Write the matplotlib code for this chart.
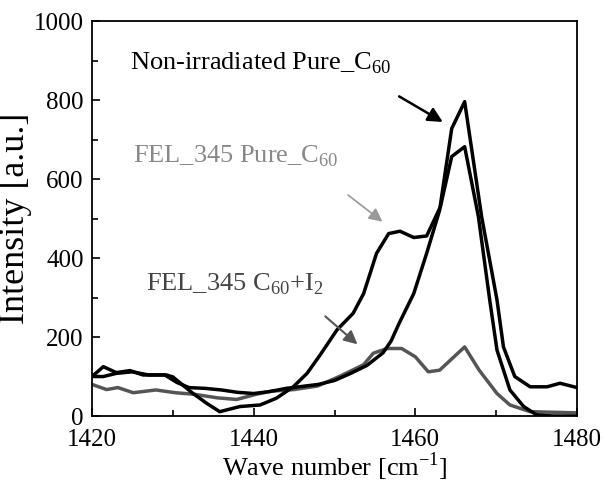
import matplotlib.pyplot as plt
from matplotlib.ticker import MultipleLocator

plt.rcParams['font.family'] = ['Liberation Serif', 'DejaVu Serif']
plt.rcParams['mathtext.fontset'] = 'custom'
plt.rcParams['mathtext.rm'] = 'Liberation Serif'

# Non-irradiated pure C60
x_pure = [1420, 1421.4, 1423, 1425, 1427, 1429, 1430.5, 1432, 1434, 1436, 1438,
          1440, 1442, 1444, 1446, 1448, 1450, 1452, 1454, 1456, 1457, 1458,
          1459.8, 1461.4, 1463, 1464.5, 1466.1, 1468.2, 1470.1, 1470.9, 1472.3,
          1474.2, 1476.3, 1477.9, 1480]
y_pure = [100, 100, 108, 112, 104, 104, 85, 72, 70, 66, 60,
          57, 62, 70, 75, 80, 90, 108, 128, 160, 190, 235,
          310, 412, 521, 728, 796, 505, 294, 175, 100,
          74, 74, 83, 72]

# FEL_345 pure C60
x_fel = [1420, 1421.4, 1423, 1424.7, 1426.3, 1429.2, 1430, 1432.5, 1434.2, 1435.8,
         1438.3, 1440.8, 1442.8, 1444.9, 1446.6, 1448.2, 1450.3, 1452.3, 1453.6,
         1455.2, 1456.7, 1458.1, 1459.8, 1461.4, 1463.1, 1464.5, 1466.1, 1467.8,
         1469.2, 1470.1, 1471.7, 1473.4, 1475, 1477, 1480]
y_fel = [100, 125, 110, 115, 104, 104, 99, 57, 32, 11,
         24, 28, 45, 74, 108, 154, 218, 260, 310,
         412, 462, 468, 452, 456, 530, 657, 682, 505,
         294, 167, 66, 24, 3, 0, 0]

# FEL_345 C60 + I2
x_iod = [1420, 1421.8, 1423.2, 1425.1, 1427.9, 1430.3, 1432.7, 1435.5, 1437.9,
         1440.3, 1442.2, 1445, 1447.9, 1450.7, 1453.6, 1454.8, 1456.5, 1458.3,
         1460, 1461.6, 1463, 1466.1, 1467.9, 1470.1, 1471.7, 1474.2, 1480]
y_iod = [80, 67, 72, 59, 66, 59, 55, 46, 42,
         55, 63, 67, 76, 101, 130, 159, 171, 171,
         150, 112, 116, 175, 116, 57, 28, 11, 8]

fig = plt.figure(figsize=(6.03, 4.91), dpi=100)
ax = fig.add_axes([0.1526, 0.1527, 0.8043, 0.8043])

ax.plot(x_iod, y_iod, color='#555555', lw=2.5)
ax.plot(x_fel, y_fel, color='black', lw=2.5)
ax.plot(x_pure, y_pure, color='black', lw=2.5)

ax.set_xlim(1420, 1480)
ax.set_ylim(0, 1000)
ax.xaxis.set_major_locator(MultipleLocator(20))
ax.xaxis.set_minor_locator(MultipleLocator(10))
ax.yaxis.set_major_locator(MultipleLocator(200))
ax.yaxis.set_minor_locator(MultipleLocator(100))
ax.tick_params(which='both', direction='in', top=False, right=False, labelsize=18)
ax.tick_params(which='major', length=6, width=1.2)
ax.tick_params(which='minor', length=4, width=1.2)
ax.tick_params(axis='x', pad=9)
ax.tick_params(axis='y', pad=6)
for s in ax.spines.values():
    s.set_linewidth(1.3)

ax.set_xlabel('Wave number [cm$^{\\mathregular{-1}}$]', fontsize=19, labelpad=0)
ax.set_ylabel('Intensity [a.u.]', fontsize=26, labelpad=1)

ax.text(1424.7, 894, 'Non-irradiated Pure_C$_{\\mathregular{60}}$', fontsize=19,
        color='black', va='center')
ax.text(1425.1, 658, 'FEL_345 Pure_C$_{\\mathregular{60}}$', fontsize=19,
        color='#888888', va='center')
ax.text(1426.7, 334, 'FEL_345 C$_{\\mathregular{60}}$+I$_{\\mathregular{2}}$', fontsize=19,
        color='#444444', va='center')

ax.annotate('', xy=(1463.7, 741), xytext=(1457.7, 813),
            arrowprops=dict(arrowstyle='-|>', color='black', lw=1.8,
                            mutation_scale=22))
ax.annotate('', xy=(1456.2, 488), xytext=(1451.4, 564),
            arrowprops=dict(arrowstyle='-|>', color='#999999', lw=1.2,
                            mutation_scale=20))
ax.annotate('', xy=(1453.1, 177), xytext=(1448.6, 257),
            arrowprops=dict(arrowstyle='-|>', color='#555555', lw=1.5,
                            mutation_scale=20))

fig.savefig('out.png', dpi=100)
